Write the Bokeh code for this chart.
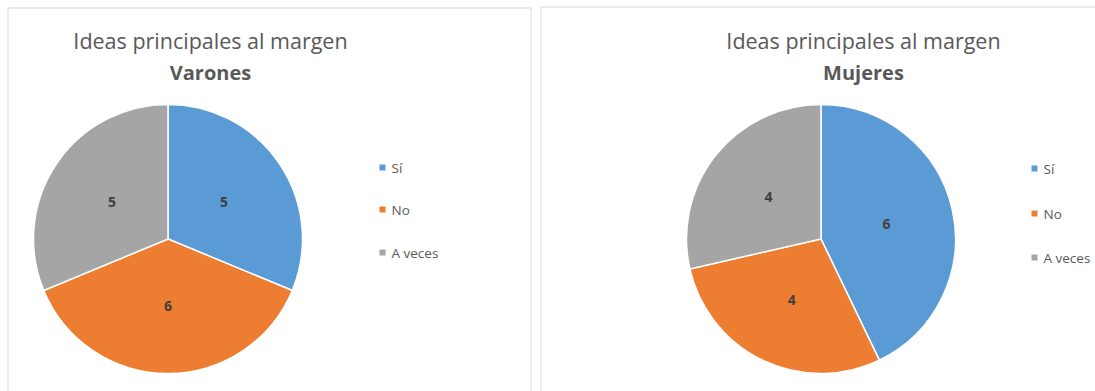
import math
from bokeh.plotting import figure
from bokeh.models import Range1d
from bokeh.core.properties import value
from bokeh.embed import file_html
from bokeh.resources import INLINE

# ---- data ----
categories = ["Sí", "No", "A veces"]
varones = [5, 6, 5]
mujeres = [6, 4, 4]
colors = ["#5B9BD5", "#ED7D31", "#A5A5A5"]
title_main = "Ideas principales al margen"
subtitles = ["Varones", "Mujeres"]

W, H = 1095, 391
FONT = "Open Sans"

def Y(y):
    return H - y

p = figure(width=W, height=H, x_range=Range1d(0, W), y_range=Range1d(0, H),
           min_border=0, toolbar_location=None, output_backend="svg",
           outline_line_color=None)
p.axis.visible = False
p.grid.visible = False

# panel borders
p.quad(left=[7.5, 540.5], right=[530.5, 1110], top=[Y(7.5), Y(6.5)], bottom=[-10, -10],
       fill_color=None, line_color="#D9D9D9", line_width=1)

panels = [
    dict(vals=varones, cx=167.5, cy=238.5, r=134.5, tx=210, leg_x=382, leg_y=[167, 209, 252], sub=subtitles[0]),
    dict(vals=mujeres, cx=820.5, cy=238.5, r=134.5, tx=863, leg_x=1034, leg_y=[168, 213, 257], sub=subtitles[1]),
]

for pn in panels:
    vals = pn["vals"]
    total = float(sum(vals))
    start = math.pi / 2
    starts, ends, lx, ly = [], [], [], []
    for v in vals:
        sweep = v / total * 2 * math.pi
        end = start - sweep
        starts.append(start)
        ends.append(end)
        mid = (start + end) / 2
        lx.append(pn["cx"] + 0.5 * pn["r"] * math.cos(mid))
        ly.append(Y(pn["cy"]) + 0.5 * pn["r"] * math.sin(mid))
        start = end
    p.wedge(x=[pn["cx"]] * len(vals), y=[Y(pn["cy"])] * len(vals), radius=pn["r"],
            start_angle=starts, end_angle=ends, direction="clock",
            fill_color=colors, line_color="white", line_width=1.5)
    p.text(x=lx, y=ly, text=[str(v) for v in vals], text_align="center",
           text_baseline="middle", text_font=value(FONT), text_font_style="bold",
           text_font_size="14px", text_color="#404040")
    # titles
    p.text(x=[pn["tx"]], y=[Y(40)], text=[title_main], text_align="center",
           text_baseline="middle", text_font=value(FONT), text_font_size="21.5px",
           text_color="#595959")
    p.text(x=[pn["tx"]], y=[Y(72)], text=[pn["sub"]], text_align="center",
           text_baseline="middle", text_font=value(FONT), text_font_style="bold",
           text_font_size="20px", text_color="#595959")
    # legend
    p.scatter(x=[pn["leg_x"]] * 3, y=[Y(v) for v in pn["leg_y"]], marker="square",
              size=6, fill_color=colors, line_color=None)
    p.text(x=[pn["leg_x"] + 9] * 3, y=[Y(v) for v in pn["leg_y"]], text=categories,
           text_align="left", text_baseline="middle", text_font=value(FONT),
           text_font_size="13.5px", text_color="#595959")

open("out.html", "w").write(file_html(p, INLINE))
